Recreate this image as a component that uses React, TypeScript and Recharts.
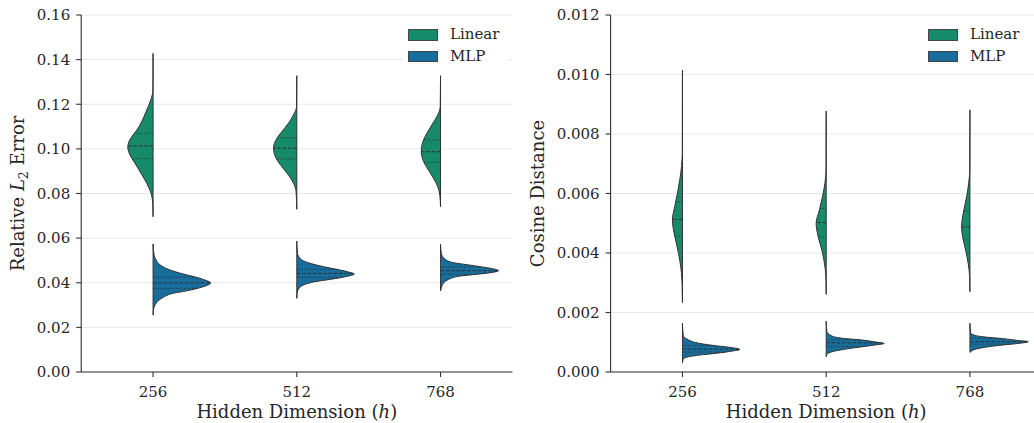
import React from 'react';
import { ComposedChart, Area, XAxis, YAxis, CartesianGrid, ReferenceLine, Legend } from 'recharts';

// ---------- data ----------
const categories = ['256', '512', '768'];
const seriesNames = ['Linear', 'MLP'];
const seriesColors = ['#168b6a', '#176d9c'];

const l2Ticks = [0, 0.02, 0.04, 0.06, 0.08, 0.1, 0.12, 0.14, 0.16];
const cosTicks = [0, 0.002, 0.004, 0.006, 0.008, 0.01, 0.012];

// violin half profiles: [value, half width (category units)]
const l2Linear256 = [[0.0696, 0], [0.0756, 0.002], [0.0801, 0.014], [0.0846, 0.044], [0.0891, 0.084], [0.0935, 0.125], [0.0965, 0.155], [0.101, 0.176], [0.1055, 0.148], [0.1084, 0.113], [0.1129, 0.074], [0.1174, 0.044], [0.1219, 0.016], [0.1264, 0.001], [0.1428, 0]];
const l2Linear512 = [[0.0729, 0], [0.0808, 0.005], [0.0846, 0.023], [0.0883, 0.058], [0.092, 0.104], [0.0958, 0.144], [0.1003, 0.162], [0.1047, 0.139], [0.1077, 0.104], [0.1115, 0.058], [0.1152, 0.023], [0.1189, 0.002], [0.1328, 0]];
const l2Linear768 = [[0.0741, 0], [0.0793, 0.005], [0.083, 0.019], [0.0868, 0.049], [0.0905, 0.084], [0.0943, 0.118], [0.0987, 0.134], [0.1032, 0.123], [0.107, 0.095], [0.1107, 0.061], [0.1144, 0.026], [0.1189, 0.002], [0.1328, 0]];
const l2Mlp256 = [[0.0255, 0], [0.027, 0.002], [0.029, 0.007], [0.0315, 0.03], [0.0335, 0.072], [0.0353, 0.141], [0.0364, 0.235], [0.0378, 0.327], [0.04, 0.401], [0.0409, 0.374], [0.0424, 0.304], [0.0439, 0.211], [0.0457, 0.118], [0.048, 0.049], [0.0502, 0.021], [0.0524, 0.007], [0.0574, 0]];
const l2Mlp512 = [[0.033, 0], [0.0353, 0.002], [0.0372, 0.012], [0.039, 0.047], [0.0405, 0.127], [0.0415, 0.232], [0.0427, 0.336], [0.0439, 0.401], [0.0448, 0.36], [0.046, 0.278], [0.0472, 0.186], [0.0487, 0.093], [0.0502, 0.035], [0.0532, 0.005], [0.0587, 0]];
const l2Mlp768 = [[0.0364, 0], [0.0375, 0.005], [0.0394, 0.016], [0.0415, 0.056], [0.043, 0.137], [0.0438, 0.253], [0.0445, 0.346], [0.0454, 0.404], [0.0462, 0.369], [0.0472, 0.276], [0.0481, 0.183], [0.049, 0.09], [0.0505, 0.033], [0.0532, 0.005], [0.0572, 0]];

const cosLinear256 = [[0.00233, 0], [0.00287, 0.002], [0.00332, 0.007], [0.00376, 0.019], [0.00421, 0.037], [0.00466, 0.058], [0.00511, 0.07], [0.00556, 0.054], [0.00601, 0.035], [0.00645, 0.019], [0.0069, 0.007], [0.00735, 0.001], [0.01015, 0]];
const cosLinear512 = [[0.00261, 0], [0.0032, 0.002], [0.00365, 0.012], [0.0041, 0.03], [0.00455, 0.056], [0.005, 0.07], [0.00545, 0.047], [0.00589, 0.026], [0.00634, 0.009], [0.00679, 0.001], [0.00877, 0]];
const cosLinear768 = [[0.0027, 0], [0.0032, 0.002], [0.00365, 0.012], [0.0041, 0.03], [0.00455, 0.051], [0.00488, 0.058], [0.00545, 0.042], [0.00589, 0.023], [0.00634, 0.009], [0.00679, 0.001], [0.00881, 0]];
const cosMlp256 = [[0.00031, 0], [0.00043, 0.005], [0.00051, 0.04], [0.00057, 0.12], [0.00063, 0.237], [0.0007, 0.341], [0.00076, 0.399], [0.00082, 0.341], [0.00088, 0.237], [0.00096, 0.12], [0.00108, 0.04], [0.00124, 0.005], [0.00164, 0]];
const cosMlp512 = [[0.00051, 0], [0.00059, 0.005], [0.00068, 0.04], [0.00076, 0.12], [0.00084, 0.237], [0.00091, 0.341], [0.00096, 0.404], [0.00101, 0.341], [0.00108, 0.237], [0.00113, 0.12], [0.00121, 0.04], [0.00136, 0.005], [0.00171, 0]];
const cosMlp768 = [[0.00066, 0], [0.00068, 0.005], [0.00076, 0.035], [0.00084, 0.116], [0.00091, 0.232], [0.00096, 0.336], [0.00102, 0.406], [0.00106, 0.336], [0.00112, 0.232], [0.00117, 0.116], [0.00123, 0.035], [0.00132, 0.005], [0.00164, 0]];

// quartiles [q1, median, q3]
const l2LinearQuart = [[0.0956, 0.1013, 0.107], [0.0955, 0.1003, 0.105], [0.094, 0.0987, 0.104]];
const l2MlpQuart = [[0.0375, 0.04, 0.0424], [0.0424, 0.0442, 0.046], [0.0438, 0.0454, 0.0471]];
const cosLinearQuart = [[0.00457, 0.00513, 0.00572], [0.00455, 0.00502, 0.0055], [0.00444, 0.00488, 0.00541]];
const cosMlpQuart = [[0.00067, 0.00077, 0.00089], [0.00086, 0.00098, 0.00108], [0.00094, 0.00102, 0.00113]];

// ---------- helpers ----------
const FONT = 'DejaVu Serif';
const TEXT = '#262626';
const EDGE = '#303030';

type Profile = number[][];

function halfData(profile: Profile, center: number, side: number) {
  return profile.map(([v, w]) => ({ v, r: side < 0 ? [center - w, center] : [center, center + w] }));
}

function widthAt(profile: Profile, q: number) {
  for (let i = 0; i < profile.length - 1; i++) {
    const [v0, w0] = profile[i];
    const [v1, w1] = profile[i + 1];
    if (q >= v0 && q <= v1) return w0 + ((w1 - w0) * (q - v0)) / (v1 - v0);
  }
  return 0;
}

function LegendBox() {
  return (
    <div style={{ background: '#fff', padding: '4px 8px 2px 5px', fontFamily: FONT, fontSize: 15, color: TEXT }}>
      {seriesNames.map((n, i) => (
        <div key={n} style={{ display: 'flex', alignItems: 'center', height: 21.5 }}>
          <span style={{ display: 'inline-block', width: 30, height: 11.5, background: seriesColors[i], border: '1px solid #444', boxSizing: 'border-box', marginRight: 12 }} />
          <span style={{ lineHeight: '15px' }}>{n}</span>
        </div>
      ))}
    </div>
  );
}

interface PanelProps {
  left: number;
  yAxisWidth: number;
  width: number;
  ticks: number[];
  digits: number;
  linear: Profile[];
  mlp: Profile[];
  qLinear: number[][];
  qMlp: number[][];
  yTitle: React.ReactNode;
  yTitleX: number;
}

const PLOT_W = 431.2;

function Panel(p: PanelProps) {
  const marginRight = p.width - p.yAxisWidth - PLOT_W;
  const plotCx = p.yAxisWidth + PLOT_W / 2;
  const lines: React.ReactNode[] = [];
  categories.forEach((_, i) => {
    p.qLinear[i].forEach((q, j) => {
      const w = widthAt(p.linear[i], q);
      lines.push(
        <ReferenceLine key={`ql${i}${j}`} segment={[{ x: i, y: q }, { x: i - w, y: q }]} stroke={EDGE} strokeWidth={1} strokeDasharray={j === 1 ? '3.5 1.8' : '1 1.6'} ifOverflow="visible" />
      );
    });
    p.qMlp[i].forEach((q, j) => {
      const w = widthAt(p.mlp[i], q);
      lines.push(
        <ReferenceLine key={`qm${i}${j}`} segment={[{ x: i, y: q }, { x: i + w, y: q }]} stroke={EDGE} strokeWidth={1} strokeDasharray={j === 1 ? '3.5 1.8' : '1 1.6'} ifOverflow="visible" />
      );
    });
  });
  return (
    <div style={{ position: 'absolute', left: p.left, top: 0 }}>
      <ComposedChart layout="vertical" width={p.width} height={423} margin={{ top: 15, right: marginRight, bottom: 0, left: 0 }}>
        <CartesianGrid vertical={false} stroke="#e8e8e8" strokeWidth={1} />
        <XAxis
          type="number"
          domain={[-0.5, 2.5]}
          ticks={[0, 1, 2]}
          interval={0}
          allowDataOverflow
          tickFormatter={(i: number) => categories[i]}
          height={51}
          tickSize={5}
          tickMargin={9}
          axisLine={{ stroke: EDGE, strokeWidth: 1.1 }}
          tickLine={{ stroke: EDGE, strokeWidth: 1.1 }}
          tick={{ fill: TEXT, fontSize: 15, fontFamily: FONT }}
          label={{
            content: () => (
              <text x={plotCx} y={418} textAnchor="middle" fill={TEXT} fontSize={18} fontFamily={FONT}>
                Hidden Dimension (<tspan fontStyle="italic">h</tspan>)
              </text>
            ),
          }}
        />
        <YAxis
          type="number"
          dataKey="v"
          reversed
          domain={[0, p.ticks[p.ticks.length - 1]]}
          ticks={p.ticks}
          interval={0}
          allowDataOverflow
          width={p.yAxisWidth}
          tickFormatter={(v: number) => v.toFixed(p.digits)}
          tickSize={5}
          tickMargin={6}
          axisLine={{ stroke: EDGE, strokeWidth: 1.1 }}
          tickLine={{ stroke: EDGE, strokeWidth: 1.1 }}
          tick={{ fill: TEXT, fontSize: 15, fontFamily: FONT }}
          label={{
            content: () => (
              <text x={p.yTitleX} y={193.5} transform={`rotate(-90 ${p.yTitleX} 193.5)`} textAnchor="middle" fill={TEXT} fontSize={18} fontFamily={FONT}>
                {p.yTitle}
              </text>
            ),
          }}
        />
        {categories.map((c, i) => (
          <Area
            key={`lin${c}`}
            data={halfData(p.linear[i], i, -1)}
            dataKey="r"
            type="monotone"
            fill={seriesColors[0]}
            fillOpacity={1}
            stroke={EDGE}
            strokeWidth={1}
            dot={false}
            activeDot={false}
            isAnimationActive={false}
          />
        ))}
        {categories.map((c, i) => (
          <Area
            key={`mlp${c}`}
            data={halfData(p.mlp[i], i, 1)}
            dataKey="r"
            type="monotone"
            fill={seriesColors[1]}
            fillOpacity={1}
            stroke={EDGE}
            strokeWidth={1}
            dot={false}
            activeDot={false}
            isAnimationActive={false}
          />
        ))}
        {lines}
        <Legend layout="vertical" align="center" verticalAlign="middle" wrapperStyle={{ left: 403, top: 20, width: 'auto', height: 'auto' }} content={() => <LegendBox />} />
      </ComposedChart>
    </div>
  );
}

export default function App() {
  return (
    <div style={{ position: 'fixed', left: 0, top: 0, width: 1034, height: 423, overflow: 'hidden', background: '#fff' }}>
      <Panel
        left={0}
        yAxisWidth={81.2}
        width={520}
        ticks={l2Ticks}
        digits={2}
        linear={[l2Linear256, l2Linear512, l2Linear768]}
        mlp={[l2Mlp256, l2Mlp512, l2Mlp768]}
        qLinear={l2LinearQuart}
        qMlp={l2MlpQuart}
        yTitleX={23.5}
        yTitle={
          <>
            Relative <tspan fontStyle="italic">L</tspan>
            <tspan fontSize={12.5} dy={4}>2</tspan>
            <tspan dy={-4}> Error</tspan>
          </>
        }
      />
      <Panel
        left={520}
        yAxisWidth={90.6}
        width={522}
        ticks={cosTicks}
        digits={3}
        linear={[cosLinear256, cosLinear512, cosLinear768]}
        mlp={[cosMlp256, cosMlp512, cosMlp768]}
        qLinear={cosLinearQuart}
        qMlp={cosMlpQuart}
        yTitleX={23.5}
        yTitle={<>Cosine Distance</>}
      />
    </div>
  );
}
